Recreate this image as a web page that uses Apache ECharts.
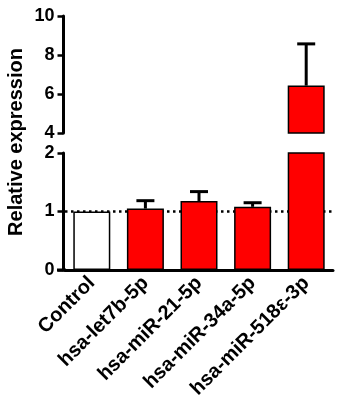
<!DOCTYPE html>
<html>
<head>
<meta charset="utf-8">
<script src="https://cdn.jsdelivr.net/npm/echarts@6/dist/echarts.min.js"></script>
<style>
  html, body { margin: 0; padding: 0; background: #fff; }
  #chart { width: 346px; height: 404px; }
</style>
</head>
<body>
<div id="chart"></div>
<script>
// Relative expression of selected miRNAs (mean + SD), split y-axis
const categories = ['Control', 'hsa-let7b-5p', 'hsa-miR-21-5p', 'hsa-miR-34a-5p', 'hsa-miR-518ε-3p'];
const means = [1.00, 1.05, 1.18, 1.08, 6.43];
const sds = [0, 0.135, 0.16, 0.07, 2.14];
const barColors = ['#ffffff', '#ff0000', '#ff0000', '#ff0000', '#ff0000'];
const upperTicks = { min: 4, max: 10, interval: 2 };
const lowerTicks = { min: 0, max: 2, interval: 1 };
const breakLow = 2;   // top of lower segment
const breakHigh = 4;  // bottom of upper segment

const FONT = '"Liberation Sans", Arial, sans-serif';
const chart = echarts.init(document.getElementById('chart'), null, { renderer: 'canvas' });

function errorItem(params, api) {
  const x = api.value(0);
  const p0 = api.coord([x, api.value(1)]);
  const p1 = api.coord([x, api.value(2)]);
  const half = 9;
  const st = { stroke: '#000', lineWidth: 3 };
  return {
    type: 'group',
    children: [
      { type: 'line', shape: { x1: p0[0], y1: p0[1], x2: p1[0], y2: p1[1] }, style: st },
      { type: 'line', shape: { x1: p1[0] - half, y1: p1[1], x2: p1[0] + half, y2: p1[1] }, style: st }
    ]
  };
}

const lowerErr = [], upperErr = [];
means.forEach((m, i) => {
  if (!sds[i]) return;
  const row = [i, m, m + sds[i]];
  if (m + sds[i] <= breakLow) lowerErr.push(row);
  if (m >= breakHigh) upperErr.push(row);
});

const barData = means.map((v, i) => ({
  value: v,
  itemStyle: { color: barColors[i], borderColor: '#000', borderWidth: 1.5 }
}));
const upperBarData = means.map((v, i) => v >= breakHigh ? {
  value: v,
  itemStyle: { color: barColors[i], borderColor: '#000', borderWidth: 1.5 }
} : '-');

const axisLineStyle = { color: '#000', width: 3 };
const labelStyle = { color: '#000', fontSize: 18, fontWeight: 'bold', fontFamily: FONT };

function valueAxis(gridIndex, t) {
  return {
    type: 'value', gridIndex: gridIndex, min: t.min, max: t.max, interval: t.interval,
    position: 'left', offset: 1.5,
    splitLine: { show: false },
    axisLine: { show: true, onZero: false, lineStyle: axisLineStyle },
    axisTick: { show: true, length: 6, lineStyle: { color: '#000', width: 2.5 } },
    axisLabel: Object.assign({ show: true, margin: 9 }, labelStyle)
  };
}

chart.setOption({
  animation: false,
  backgroundColor: '#fff',
  grid: [
    { left: 65, right: 13, top: 16, height: 117, outerBoundsMode: 'none' },
    { left: 65, right: 13, top: 153, height: 117, outerBoundsMode: 'none' }
  ],
  xAxis: [
    {
      type: 'category', gridIndex: 0, data: categories,
      axisLine: { show: false }, axisTick: { show: false }, axisLabel: { show: false }
    },
    {
      type: 'category', gridIndex: 1, data: categories,
      axisLine: { onZero: false, lineStyle: axisLineStyle },
      axisTick: { alignWithLabel: true, length: 6, lineStyle: { color: '#000', width: 2.5 } },
      axisLabel: Object.assign({ rotate: 45, margin: 10, interval: 0 }, labelStyle, { fontSize: 20 })
    }
  ],
  yAxis: [valueAxis(0, upperTicks), valueAxis(1, lowerTicks)],
  series: [
    {
      // reference level at 1
      type: 'line', xAxisIndex: 1, yAxisIndex: 1, data: [], z: 1,
      markLine: {
        silent: true, symbol: 'none', z: 1, animation: false,
        label: { show: false },
        lineStyle: { color: '#000', width: 2.5, type: [2.5, 3.5] },
        data: [{ yAxis: 1 }]
      }
    },
    {
      type: 'bar', xAxisIndex: 1, yAxisIndex: 1, data: barData,
      barWidth: 37, z: 3, clip: true
    },
    {
      type: 'bar', xAxisIndex: 0, yAxisIndex: 0, data: upperBarData,
      barWidth: 37, z: 3, clip: true
    },
    {
      type: 'custom', xAxisIndex: 1, yAxisIndex: 1, data: lowerErr,
      renderItem: errorItem, z: 4, silent: true
    },
    {
      type: 'custom', xAxisIndex: 0, yAxisIndex: 0, data: upperErr,
      renderItem: errorItem, z: 4, silent: true
    }
  ],
  graphic: [
    {
      type: 'text', x: 16, y: 142, rotation: Math.PI / 2,
      style: {
        text: 'Relative expression', fill: '#000',
        font: 'bold 20px ' + FONT, textAlign: 'center', textVerticalAlign: 'middle'
      }
    },
    {
      // x-axis line continues a little left of the y-axis
      type: 'line', shape: { x1: 57, y1: 270, x2: 66, y2: 270 },
      style: { stroke: '#000', lineWidth: 3 }
    }
  ]
});
</script>
</body>
</html>
